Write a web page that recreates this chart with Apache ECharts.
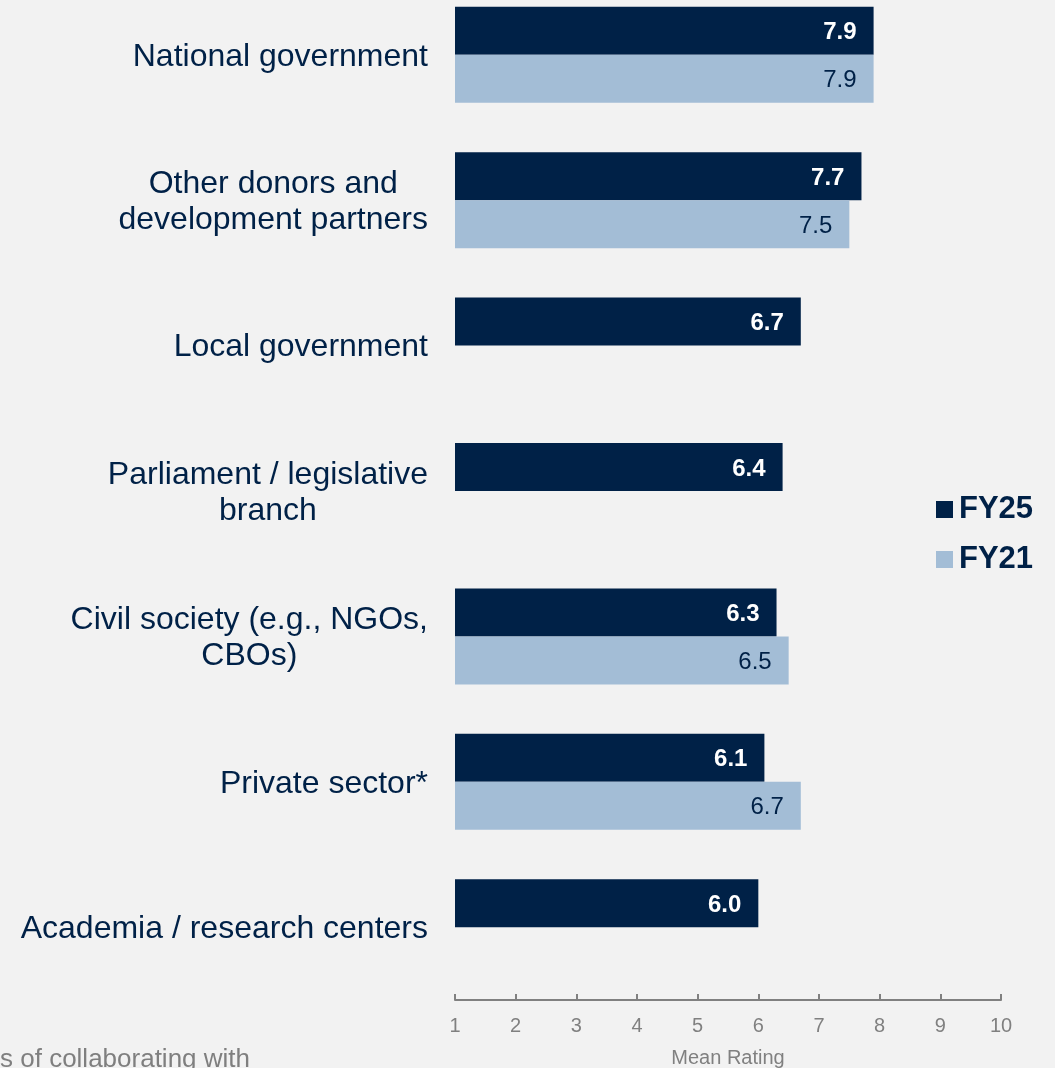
<!DOCTYPE html>
<html>
<head>
<meta charset="utf-8">
<script src="https://cdn.jsdelivr.net/npm/echarts@6/dist/echarts.min.js"></script>
<style>
  html, body { margin: 0; padding: 0; background: #f2f2f2; overflow: hidden; }
  body { position: relative; width: 1055px; height: 1068px; }
  /* canvas runs a little above the page top so the first bar group starts near the edge */
  #chart { position: absolute; left: 0; top: -18px; width: 1055px; height: 1086px; }
</style>
</head>
<body>
<div id="chart"></div>
<script>
// Partner categories, top to bottom
const categories = [
  'National government',
  'Other donors and\ndevelopment partners',
  'Local government',
  'Parliament / legislative\nbranch',
  'Civil society (e.g., NGOs,\nCBOs)',
  'Private sector*',
  'Academia / research centers'
];

// Mean ratings by survey year ('-' = not asked that year)
const fy25 = [7.9, 7.7, 6.7, 6.4, 6.3, 6.1, 6.0];
const fy21 = [7.9, 7.5, '-', '-', 6.5, 6.7, '-'];

const xTicks = [1, 2, 3, 4, 5, 6, 7, 8, 9, 10];

const NAVY = '#002147';
const LIGHT = '#a3bdd6';
const FONT = 'Liberation Sans, Arial, sans-serif';

const chart = echarts.init(document.getElementById('chart'), null, { renderer: 'canvas' });

chart.setOption({
  backgroundColor: '#f2f2f2',
  animation: false,
  textStyle: { fontFamily: FONT },
  grid: { left: 455, right: 54, top: 0, bottom: 68, containLabel: false, outerBoundsMode: 'none' },
  legend: {
    orient: 'vertical',
    left: 931,
    top: 507,
    itemWidth: 17,
    itemHeight: 17,
    itemGap: 19,
    icon: 'rect',
    textStyle: { color: NAVY, fontSize: 31, fontWeight: 'bold', fontFamily: FONT, lineHeight: 30, padding: [0, 0, 0, 1] },
    data: ['FY25', 'FY21']
  },
  xAxis: {
    type: 'value',
    min: xTicks[0],
    max: xTicks[xTicks.length - 1],
    interval: 1,
    splitLine: { show: false },
    axisLine: { show: true, lineStyle: { color: '#808080', width: 2 } },
    axisTick: { show: true, inside: true, length: 6, lineStyle: { color: '#808080', width: 2 } },
    axisLabel: { color: '#808080', fontSize: 20, margin: 16, fontFamily: FONT },
    name: 'Mean Rating',
    nameLocation: 'middle',
    nameGap: 48,
    nameTextStyle: { color: '#808080', fontSize: 20, fontFamily: FONT }
  },
  yAxis: {
    type: 'category',
    inverse: true,
    data: categories,
    axisLine: { show: false },
    axisTick: { show: false },
    axisLabel: {
      margin: 27,
      color: NAVY,
      fontSize: 32,
      fontFamily: FONT,
      lineHeight: 36,
      padding: [4, 0, 0, 0],
      formatter: function (v) {
        return v.split('\n').map(function (s) { return '{c|' + s + '}'; }).join('\n');
      },
      rich: {
        c: { align: 'center', color: NAVY, fontSize: 32, fontFamily: FONT, lineHeight: 36 }
      }
    }
  },
  series: [
    {
      name: 'FY25',
      type: 'bar',
      data: fy25,
      barWidth: 48,
      barGap: '0%',
      itemStyle: { color: NAVY },
      label: {
        show: true,
        position: 'insideRight',
        distance: 17,
        offset: [0, 2],
        color: '#ffffff',
        fontWeight: 'bold',
        fontSize: 24,
        fontFamily: FONT,
        formatter: function (p) { return Number(p.value).toFixed(1); }
      }
    },
    {
      name: 'FY21',
      type: 'bar',
      data: fy21,
      barWidth: 48,
      barGap: '0%',
      itemStyle: { color: LIGHT },
      label: {
        show: true,
        position: 'insideRight',
        distance: 17,
        offset: [0, 2],
        color: NAVY,
        fontSize: 24,
        fontFamily: FONT,
        formatter: function (p) { return Number(p.value).toFixed(1); }
      }
    }
  ],
  graphic: [
    {
      type: 'text',
      left: 0,
      top: 1065,
      style: {
        text: 's of collaborating with',
        fill: '#7f7f7f',
        font: '26px ' + FONT
      }
    }
  ]
});
</script>
</body>
</html>
